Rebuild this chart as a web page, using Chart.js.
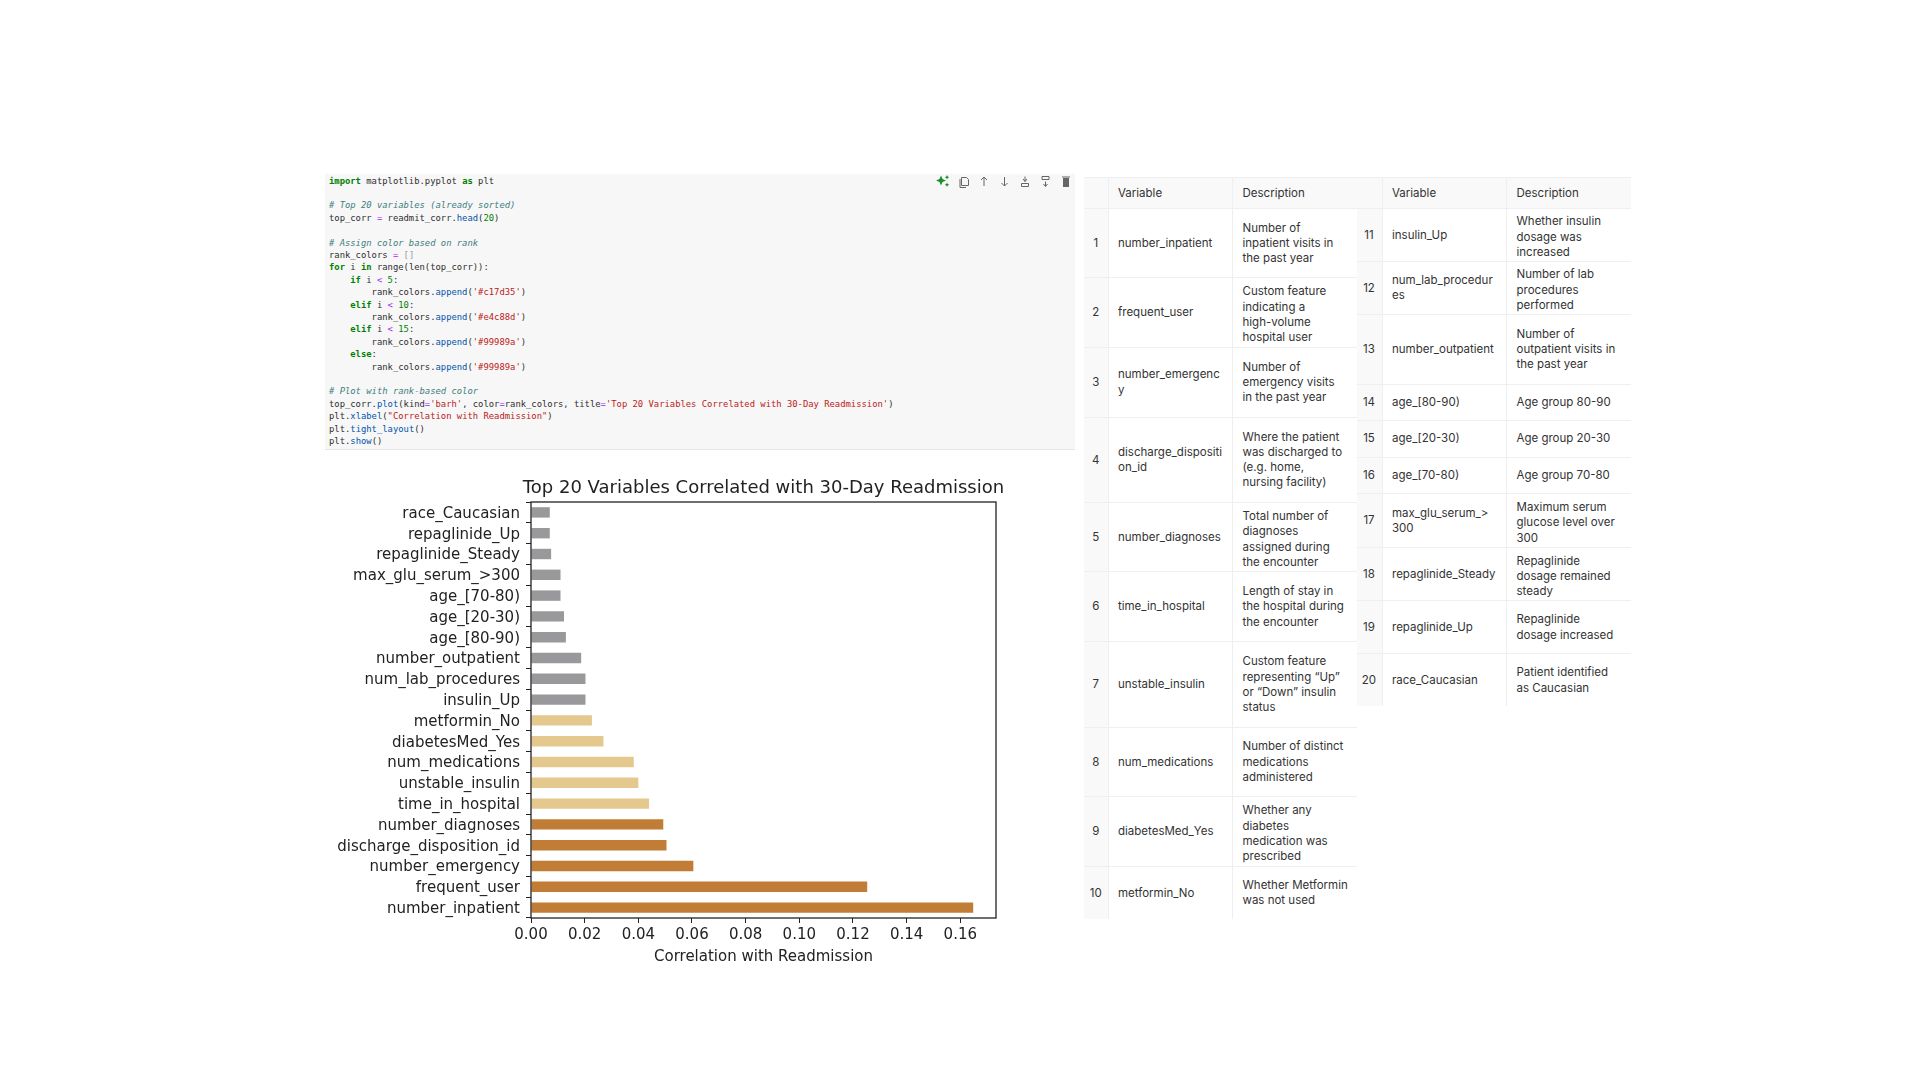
<!DOCTYPE html>
<html>
<head>
<meta charset="utf-8">
<title>Top 20 Variables Correlated with 30-Day Readmission</title>
<script src="https://cdn.jsdelivr.net/npm/chart.js@4"></script>
<style>
  html, body { margin: 0; padding: 0; background: #fff; }
  body { position: relative; width: 1920px; height: 1080px; overflow: hidden; }

  /* notebook cell */
  .cell { position: absolute; left: 325px; top: 174px; width: 750px; height: 276px; background: #f7f7f7; border-bottom: 1px solid #e6e6e6; box-sizing: border-box; }
  .cell div { position: absolute; left: 4px; font: 8.85px/12.4px "DejaVu Sans Mono", monospace; color: #2e2e2e; white-space: pre; }
  .k { color: #008000; font-weight: bold; }
  .c { color: #3d7f7f; font-style: italic; }
  .n { color: #008000; }
  .o { color: #aa22ff; }
  .f { color: #0054aa; }
  .s { color: #ba2121; }
  .g { color: #999; }
  .tools { position: absolute; left: 0; top: 0; }

  #chartBox { position: absolute; left: 330px; top: 465px; width: 690px; height: 510px; }

  /* variable tables */
  table { position: absolute; border-collapse: collapse; table-layout: fixed; font: 11.5px/15.2px Inter, "Liberation Sans", sans-serif; color: #333; background: #fff; }
  td, th { padding: 1px 0 0 9.5px; border: 1px solid #efefef; border-top: 0; border-left: 0; font-weight: normal; text-align: left; vertical-align: middle; white-space: pre; box-sizing: border-box; }
  th { background: #f9f9f9; border-top: 1px solid #efefef; }
  td:last-child, th:last-child { border-right: 0; }
  td:first-child, th:first-child { background: #f9f9f9; padding: 1px 0 0 0; text-align: center; }
  tr:last-child td { border-bottom: 0; }
</style>
</head>
<body>

<div class="cell" id="cell">
<svg class="tools" width="750" height="20" viewBox="0 0 750 20">
  <g fill="#1c8c2e">
    <path d="M616 1.5 l1.5 3.5 3.5 1.5 -3.5 1.5 -1.5 3.5 -1.5 -3.5 -3.5 -1.5 3.5 -1.5z"/>
    <path d="M622 1 l.7 1.5 1.5 .7 -1.5 .7 -.7 1.5 -.7 -1.5 -1.5 -.7 1.5 -.7z"/>
    <path d="M622 8.500 l.7 1.5 1.5 .7 -1.5 .7 -.7 1.5 -.7 -1.5 -1.5 -.7 1.5 -.7z"/>
  </g>
  <g fill="none" stroke="#666" stroke-width="1">
    <path d="M636.500 3.500 h5 l2 2 v6 h-7z"/>
    <path d="M635 5 v8.500 h6"/>
    <path d="M659 12 v-9 M656 6 l3 -3 3 3"/>
    <path d="M679.500 3 v9 M676.500 9 l3 3 3 -3"/>
    <path d="M700 2.500 v5 M698 5 l2 2.500 2 -2.500 M696.500 9.500 h7 v3 h-7z"/>
    <path d="M720.500 7.500 v5 M718.500 10 l2 2.500 2 -2.500 M717 2.500 h7 v3 h-7z"/>
  </g>
  <path d="M738 4 h6 v9 h-6z M737 2.500 h8 v1 h-8z" fill="#666"/>
</svg>
</div>

<div id="chartBox"><canvas id="corrChart"></canvas></div>

<script>
/*
-------------------------------------
/// data
-------------------------------------
*/
const variables = ['number_inpatient', 'frequent_user', 'number_emergency', 'discharge_disposition_id', 'number_diagnoses',
  'time_in_hospital', 'unstable_insulin', 'num_medications', 'diabetesMed_Yes', 'metformin_No',
  'insulin_Up', 'num_lab_procedures', 'number_outpatient', 'age_[80-90)', 'age_[20-30)',
  'age_[70-80)', 'max_glu_serum_>300', 'repaglinide_Steady', 'repaglinide_Up', 'race_Caucasian'];
const correlations = [0.1648, 0.1253, 0.0605, 0.0505, 0.0493,
  0.0440, 0.0400, 0.0383, 0.0270, 0.0227,
  0.0203, 0.0203, 0.0187, 0.0130, 0.0123,
  0.0110, 0.0110, 0.0075, 0.0070, 0.0070];
const xTicks = [0, 0.02, 0.04, 0.06, 0.08, 0.10, 0.12, 0.14, 0.16];
const chartTitle = 'Top 20 Variables Correlated with 30-Day Readmission';
const xLabel = 'Correlation with Readmission';

// wrapped the way the reference table wraps them
const leftNames = ['number_inpatient', 'frequent_user', 'number_emergenc\ny', 'discharge_dispositi\non_id', 'number_diagnoses',
  'time_in_hospital', 'unstable_insulin', 'num_medications', 'diabetesMed_Yes', 'metformin_No'];
const leftDescriptions = ['Number of\ninpatient visits in\nthe past year',
  'Custom feature\nindicating a\nhigh-volume\nhospital user',
  'Number of\nemergency visits\nin the past year',
  'Where the patient\nwas discharged to\n(e.g. home,\nnursing facility)',
  'Total number of\ndiagnoses\nassigned during\nthe encounter',
  'Length of stay in\nthe hospital during\nthe encounter',
  'Custom feature\nrepresenting \u201cUp\u201d\nor \u201cDown\u201d insulin\nstatus',
  'Number of distinct\nmedications\nadministered',
  'Whether any\ndiabetes\nmedication was\nprescribed',
  'Whether Metformin\nwas not used'];
const rightNames = ['insulin_Up', 'num_lab_procedur\nes', 'number_outpatient', 'age_[80-90)', 'age_[20-30)',
  'age_[70-80)', 'max_glu_serum_>\n300', 'repaglinide_Steady', 'repaglinide_Up', 'race_Caucasian'];
const rightDescriptions = ['Whether insulin\ndosage was\nincreased',
  'Number of lab\nprocedures\nperformed',
  'Number of\noutpatient visits in\nthe past year',
  'Age group 80-90', 'Age group 20-30', 'Age group 70-80',
  'Maximum serum\nglucose level over\n300',
  'Repaglinide\ndosage remained\nsteady',
  'Repaglinide\ndosage increased',
  'Patient identified\nas Caucasian'];

// notebook source, one list of [style, text] runs per line
const codeLines = [
  [['k', 'import'], ['', ' matplotlib.pyplot '], ['k', 'as'], ['', ' plt']],
  [],
  [['c', '# Top 20 variables (already sorted)']],
  [['', 'top_corr '], ['o', '='], ['', ' readmit_corr.'], ['f', 'head'], ['', '('], ['n', '20'], ['', ')']],
  [],
  [['c', '# Assign color based on rank']],
  [['', 'rank_colors '], ['o', '='], ['g', ' []']],
  [['k', 'for'], ['', ' i '], ['k', 'in'], ['', ' range(len(top_corr)):']],
  [['k', '    if'], ['', ' i '], ['o', '<'], ['n', ' 5'], ['', ':']],
  [['', '        rank_colors.'], ['f', 'append'], ['', '('], ['s', "'#c17d35'"], ['', ')']],
  [['k', '    elif'], ['', ' i '], ['o', '<'], ['n', ' 10'], ['', ':']],
  [['', '        rank_colors.'], ['f', 'append'], ['', '('], ['s', "'#e4c88d'"], ['', ')']],
  [['k', '    elif'], ['', ' i '], ['o', '<'], ['n', ' 15'], ['', ':']],
  [['', '        rank_colors.'], ['f', 'append'], ['', '('], ['s', "'#99989a'"], ['', ')']],
  [['k', '    else'], ['', ':']],
  [['', '        rank_colors.'], ['f', 'append'], ['', '('], ['s', "'#99989a'"], ['', ')']],
  [],
  [['c', '# Plot with rank-based color']],
  [['', 'top_corr.'], ['f', 'plot'], ['', '(kind'], ['o', '='], ['s', "'barh'"], ['', ', color'], ['o', '='], ['', 'rank_colors, title'], ['o', '='], ['s', "'Top 20 Variables Correlated with 30-Day Readmission'"], ['', ')']],
  [['', 'plt.'], ['f', 'xlabel'], ['', '('], ['s', '"Correlation with Readmission"'], ['', ')']],
  [['', 'plt.'], ['f', 'tight_layout'], ['', '()']],
  [['', 'plt.'], ['f', 'show'], ['', '()']]
];

/*
-------------------------------------
/// code cell
-------------------------------------
*/
const cell = document.getElementById('cell');
codeLines.forEach((runs, i) => {
  if (!runs.length) return;
  const line = document.createElement('div');
  line.style.top = (0.5 + i * 12.4) + 'px';
  runs.forEach(([cls, text]) => {
    const span = document.createElement('span');
    span.className = cls;
    span.textContent = text;
    line.appendChild(span);
  });
  cell.appendChild(line);
});

/*
-------------------------------------
/// bar chart
-------------------------------------
*/
const rankColors = correlations.map((v, i) => i < 5 ? '#c17d35' : i < 10 ? '#e4c88d' : '#99989a');
const chartFont = '"DejaVu Sans", sans-serif';

const frame = {
  id: 'frame',
  // title is wider than the axes but still centred on them
  afterLayout(chart) {
    const a = chart.chartArea, t = chart.titleBlock;
    t.left = a.left - 20;
    t.right = a.right + 20;
  },
  // frame round the plot, matplotlib style
  afterDatasetsDraw(chart) {
    const a = chart.chartArea, c = chart.ctx;
    c.save();
    c.strokeStyle = '#222';
    c.lineWidth = 1.3;
    c.strokeRect(a.left, a.top, a.right - a.left, a.bottom - a.top);
    c.restore();
  }
};

// category labels sit a little low in the reference
function nudgeLabels(axis) {
  if (axis.nudged) return;
  axis.nudged = true;
  const draw = axis.drawLabels;
  axis.drawLabels = function (area) {
    axis.ctx.save();
    axis.ctx.translate(0, 1.5);
    draw.call(axis, area);
    axis.ctx.restore();
  };
}

new Chart(document.getElementById('corrChart'), {
  type: 'bar',
  data: {
    labels: variables,
    datasets: [{ data: correlations, backgroundColor: rankColors, borderWidth: 0, categoryPercentage: 1, barPercentage: 0.5 }]
  },
  plugins: [frame],
  options: {
    indexAxis: 'y',
    responsive: true,
    maintainAspectRatio: false,
    animation: false,
    layout: { padding: { right: 24, bottom: 9 } },
    plugins: {
      legend: { display: false },
      tooltip: { enabled: false },
      title: {
        display: true,
        text: chartTitle,
        fullSize: false,
        color: '#222',
        font: { family: chartFont, size: 18, weight: 'normal' },
        padding: { top: 12.5, bottom: 2.9 }
      }
    },
    scales: {
      x: {
        min: 0,
        max: 0.1733,
        afterBuildTicks: axis => { axis.ticks = xTicks.map(value => ({ value })); },
        afterFit: axis => { axis.height = 48; },
        grid: { drawOnChartArea: false, tickLength: 5, tickColor: '#222' },
        border: { display: false },
        ticks: {
          color: '#222', padding: 3, maxRotation: 0,
          font: { family: chartFont, size: 15 },
          callback: v => v.toFixed(2)
        },
        title: {
          display: true, text: xLabel, color: '#222',
          font: { family: chartFont, size: 15 },
          padding: { top: 3, bottom: 0 }
        }
      },
      y: {
        reverse: true,
        afterFit: axis => { axis.width = 201; },
        afterUpdate: nudgeLabels,
        grid: { drawOnChartArea: false, tickLength: 5, tickColor: '#222' },
        border: { display: false },
        ticks: { color: '#222', padding: 6, autoSkip: false, font: { family: chartFont, size: 15 } }
      }
    }
  }
});

/*
-------------------------------------
/// tables
-------------------------------------
*/
function buildTable(left, firstRank, names, descriptions, rowHeights) {
  const widths = [left === 1084 ? 24 : 25.5, 124.5, 124.5];
  const table = document.createElement('table');
  table.style.left = left + 'px';
  table.style.top = '177px';
  table.style.width = widths.reduce((a, b) => a + b) + 'px';

  const colgroup = document.createElement('colgroup');
  widths.forEach(w => {
    const col = document.createElement('col');
    col.style.width = w + 'px';
    colgroup.appendChild(col);
  });
  table.appendChild(colgroup);

  const addRow = (tag, cells, height) => {
    const tr = document.createElement('tr');
    tr.style.height = height + 'px';
    cells.forEach((text, c) => {
      const cell = document.createElement(tag);
      cell.textContent = text;
      // descriptions in tight rows hang low in the reference
      if (c === 2 && tag === 'td' && height - text.split('\n').length * 15 < 10) cell.style.paddingTop = '5px';
      tr.appendChild(cell);
    });
    table.appendChild(tr);
  };

  addRow('th', ['', 'Variable', 'Description'], 31);
  names.forEach((name, i) => addRow('td', [firstRank + i, name, descriptions[i]], rowHeights[i]));
  document.body.appendChild(table);
}

buildTable(1084, 1, leftNames, leftDescriptions, [69, 69.5, 70, 85.5, 69, 70, 85.5, 69.5, 69.5, 53]);
buildTable(1356.5, 11, rightNames, rightDescriptions, [52.5, 53.5, 69.5, 36, 37, 36.5, 54, 53, 53, 52.5]);
</script>
</body>
</html>
